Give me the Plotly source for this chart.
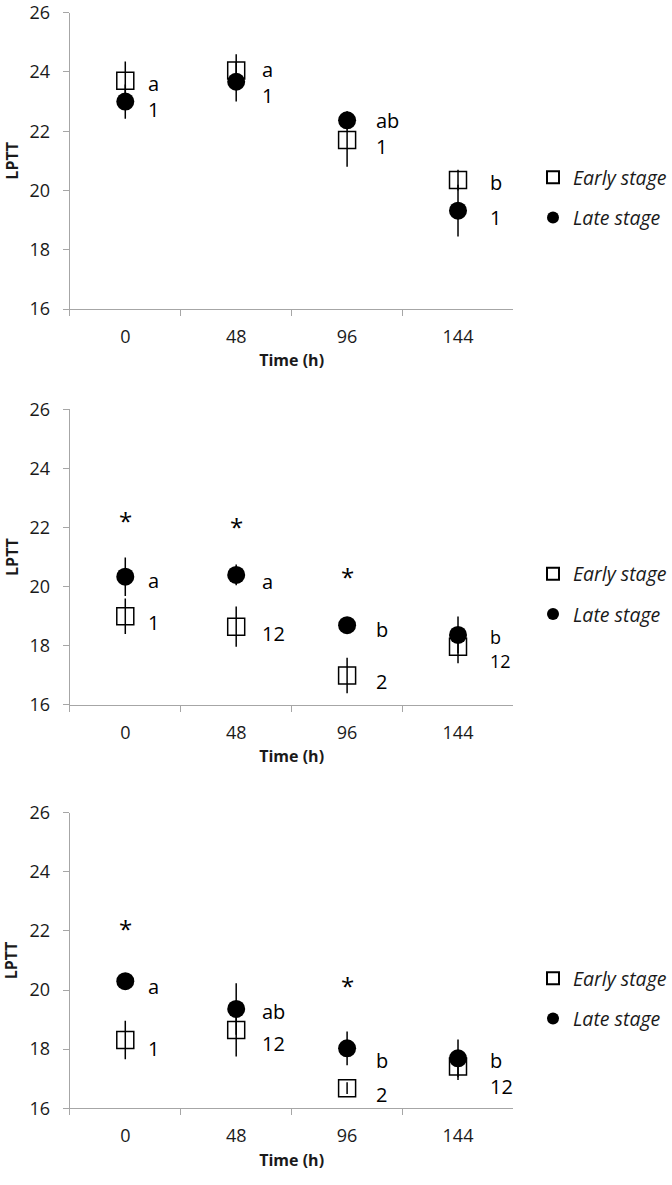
import plotly.graph_objects as go

categories = ["0", "48", "96", "144"]

# Panel 1
p1_early = [23.7, 24.05, 21.7, 20.35]
p1_early_err = [0.65, 0.55, 0.9, 0.35]
p1_late = [23.0, 23.67, 22.37, 19.32]
p1_late_err = [0.58, 0.67, 0.3, 0.87]
# Panel 2
p2_early = [19.0, 18.65, 17.0, 17.97]
p2_early_err = [0.6, 0.68, 0.6, 0.56]
p2_late = [20.34, 20.4, 18.7, 18.37]
p2_late_err = [0.65, 0.35, 0.2, 0.62]
# Panel 3
p3_early = [18.31, 18.65, 16.68, 17.41]
p3_early_err = [0.65, 0.9, 0.2, 0.45]
p3_late = [20.3, 19.36, 18.03, 17.69]
p3_late_err = [0.2, 0.87, 0.57, 0.64]

# significance labels: (category, y, text)
p1_labels = [("0", 23.6, "a"), ("0", 22.74, "1"), ("48", 24.07, "a"), ("48", 23.2, "1"),
             ("96", 22.37, "ab"), ("96", 21.5, "1"), ("144", 20.28, "b"), ("144", 19.1, "1")]
p2_labels = [("0", 20.2, "a"), ("0", 18.8, "1"), ("48", 20.17, "a"), ("48", 18.42, "12"),
             ("96", 18.56, "b"), ("96", 16.79, "2"), ("144", 18.3, "b"), ("144", 17.5, "12")]
p3_labels = [("0", 20.11, "a"), ("0", 18.03, "1"), ("48", 19.27, "ab"), ("48", 18.2, "12"),
             ("96", 17.63, "b"), ("96", 16.45, "2"), ("144", 17.63, "b"), ("144", 16.73, "12")]
p1_stars = []
p2_stars = [("0", 22.3), ("48", 22.09), ("96", 20.4)]
p3_stars = [("0", 22.14), ("96", 20.23)]

y_ticks = [16, 18, 20, 22, 24, 26]

FONT = "Open Sans"
AXC = "#a6a6a6"
TXT = "#1a1a1a"
label_dx = [21, 24, 27, 30]

W, H = 672, 1185
panels = [
    (p1_early, p1_early_err, p1_late, p1_late_err, p1_labels, p1_stars),
    (p2_early, p2_early_err, p2_late, p2_late_err, p2_labels, p2_stars),
    (p3_early, p3_early_err, p3_late, p3_late_err, p3_labels, p3_stars),
]
ydomains = [[0.73924, 0.98928], [0.40506, 0.65460], [0.06473, 0.31418]]
legend_y = [0.8333, 0.4987, 0.1574]
xdomain = [71 / W, 522 / W]
# tightly stacked label pairs get a slightly smaller font
tight_labels = {(1, "144")}

fig = go.Figure()
annotations = []
layout = {}
for i, (e, ee, l, le, labels, stars) in enumerate(panels):
    n = "" if i == 0 else str(i + 1)
    lg = "legend" if i == 0 else f"legend{i + 1}"
    fig.add_trace(go.Scatter(
        x=categories, y=e, mode="markers", name="Early stage",
        xaxis="x" + n, yaxis="y" + n, legend=lg, legendgroup=f"e{i}",
        marker=dict(symbol="square-open", size=17, color="black", line=dict(width=1.5, color="black")),
        error_y=dict(type="data", array=ee, visible=True, color="black", thickness=1.5, width=0),
    ))
    fig.add_trace(go.Scatter(
        x=categories, y=l, mode="markers", name="Late stage",
        xaxis="x" + n, yaxis="y" + n, legend=lg, legendgroup=f"l{i}",
        marker=dict(symbol="circle", size=18, color="black"),
        error_y=dict(type="data", array=le, visible=True, color="black", thickness=1.5, width=0),
    ))
    layout["xaxis" + n] = dict(
        type="category", domain=xdomain, anchor="y" + n, tickson="boundaries",
        range=[-0.5, 3.5], automargin=False,
        ticks="outside", ticklen=6, tickcolor=AXC, tickwidth=1.3,
        showline=True, linecolor=AXC, linewidth=1.3, showgrid=False, zeroline=False,
        tickfont=dict(family=FONT, size=18, color=TXT), ticklabelstandoff=11,
        title=dict(text="<b>Time (h)</b>", font=dict(family=FONT, size=16, color=TXT), standoff=8),
        categoryorder="array", categoryarray=categories,
    )
    layout["yaxis" + n] = dict(
        domain=ydomains[i], anchor="x" + n, range=[16, 26], tickvals=y_ticks,
        automargin=False, ticklabeloverflow="allow",
        ticks="outside", ticklen=6, tickcolor=AXC, tickwidth=1.3,
        showline=True, linecolor=AXC, linewidth=1.3, showgrid=False, zeroline=False,
        tickfont=dict(family=FONT, size=18, color=TXT), ticklabelstandoff=9,
    )
    layout[lg] = dict(
        x=542 / W, xanchor="left", y=legend_y[i], yanchor="middle",
        font=dict(family=FONT, size=19.5, color=TXT, style="italic"),
        bgcolor="rgba(0,0,0,0)", itemsizing="constant", traceorder="grouped",
        tracegroupgap=12, itemwidth=30,
    )
    # y-axis title
    annotations.append(dict(
        x=12 / W, xref="paper", y=sum(ydomains[i]) / 2, yref="paper", text="<b>LPTT</b>",
        textangle=-90, showarrow=False, xanchor="center", yanchor="middle",
        font=dict(family=FONT, size=16, color=TXT),
    ))
    for cat, yv, txt in labels:
        k = categories.index(cat)
        fs = 18 if (i, cat) in tight_labels else 20
        annotations.append(dict(
            x=k, y=yv, xref="x" + n, yref="y" + n, text=txt, showarrow=False,
            xanchor="left", yanchor="middle", xshift=label_dx[k],
            font=dict(family=FONT, size=fs, color="black"),
        ))
    for cat, yv in stars:
        k = categories.index(cat)
        annotations.append(dict(
            x=k, y=yv, xref="x" + n, yref="y" + n, text="*", showarrow=False,
            xanchor="center", yanchor="middle", yshift=-2,
            font=dict(family=FONT, size=24, color="black"),
        ))

fig.update_layout(
    **layout,
    width=W, height=H,
    margin=dict(l=0, r=0, t=0, b=0),
    plot_bgcolor="white", paper_bgcolor="white",
    annotations=annotations,
    showlegend=True,
)
fig.write_html("out.html", config={"displayModeBar": False},
               post_script="document.body.style.margin='0';")
